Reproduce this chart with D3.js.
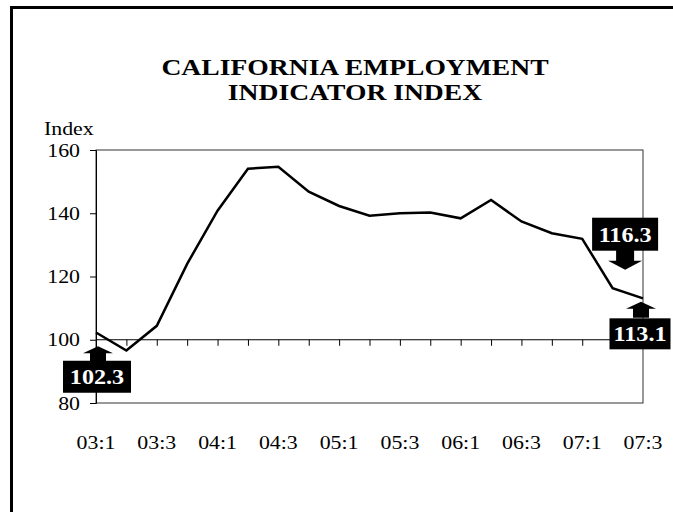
<!DOCTYPE html>
<html>
<head>
<meta charset="utf-8">
<script src="https://cdn.jsdelivr.net/npm/d3@7"></script>
<style>
  html, body { margin: 0; padding: 0; background: #fff; overflow: hidden; }
  svg { display: block; font-family: "Liberation Serif", "Times New Roman", serif; }
</style>
</head>
<body>
<svg id="chart" width="673" height="512"></svg>
<script>
// ---- data ----
const quarters = ["03:1","03:2","03:3","03:4","04:1","04:2","04:3","04:4","05:1","05:2",
                  "05:3","05:4","06:1","06:2","06:3","06:4","07:1","07:2","07:3"];
const values   = [102.3, 96.6, 104.4, 124.0, 140.8, 154.1, 154.7, 146.8, 142.3, 139.2,
                  140.0, 140.2, 138.4, 144.2, 137.4, 133.7, 131.9, 116.3, 113.1];
const xTickLabels = ["03:1","03:3","04:1","04:3","05:1","05:3","06:1","06:3","07:1","07:3"];
const yTicks = [80, 100, 120, 140, 160];
const titleLines = ["CALIFORNIA EMPLOYMENT", "INDICATOR INDEX"];
const yAxisTitle = "Index";
const callouts = [
  { index: 0,  label: "102.3", side: "axis" },
  { index: 17, label: "116.3", side: "above" },
  { index: 18, label: "113.1", side: "below" }
];

// ---- layout ----
const SX = 1.15; // horizontal stretch of the reference typeface
const svg = d3.select("#chart");
const m = { left: 96, right: 643, top: 150, bottom: 403 };

function stretchedText(parent, tx, ty, str, size, opts = {}) {
  return parent.append("text")
    .attr("transform", `translate(${tx},${ty}) scale(${SX},1)`)
    .attr("text-anchor", opts.anchor || "start")
    .attr("font-size", size)
    .attr("font-weight", opts.weight || "normal")
    .attr("fill", opts.fill || "#000")
    .text(str);
}

// outer frame (only top & left visible in the reference)
svg.append("path").attr("d", "M11.5,600 V7.5 H700")
  .attr("fill", "none").attr("stroke", "#000").attr("stroke-width", 3);

// title
titleLines.forEach((t, i) => stretchedText(svg, 355, 75 + i * 24.5, t, 24, { anchor: "middle", weight: "bold" }));

const x = d3.scalePoint().domain(quarters).range([m.left, m.right]);
const y = d3.scaleLinear().domain([80, 160]).range([m.bottom, m.top]);

// plot area border
svg.append("rect").attr("x", m.left).attr("y", m.top)
  .attr("width", m.right - m.left).attr("height", m.bottom - m.top)
  .attr("fill", "none").attr("stroke", "#333").attr("stroke-width", 1);

// y axis
const yAxis = svg.append("g").attr("transform", `translate(${m.left},0)`)
  .call(d3.axisLeft(y).tickValues(yTicks).tickSize(6).tickPadding(10).tickFormat(d3.format("d")));
yAxis.select(".domain").attr("stroke", "#000");
yAxis.selectAll(".tick line").attr("stroke", "#000");
yAxis.selectAll("text")
  .attr("x", -16 / SX).attr("transform", `scale(${SX},1)`)
  .attr("font-size", 19).attr("font-family", "Liberation Serif").attr("fill", "#000");

// x axis at y=100
const xAxis = svg.append("g").attr("transform", `translate(0,${y(100)})`)
  .call(d3.axisBottom(x).tickSize(6).tickFormat(""));
xAxis.select(".domain").attr("d", `M${m.left},0H${m.right}`).attr("stroke", "#000");
xAxis.selectAll(".tick line").attr("stroke", "#000");

// x labels at bottom
const xl = svg.append("g");
xTickLabels.forEach(d => stretchedText(xl, x(d), 449, d, 19, { anchor: "middle" }));

// y axis title
stretchedText(svg, 44, 135, yAxisTitle, 19);

// line
svg.append("path").datum(values)
  .attr("fill", "none").attr("stroke", "#000").attr("stroke-width", 2.5)
  .attr("stroke-linejoin", "miter")
  .attr("d", d3.line().x((d, i) => x(quarters[i])).y(d => y(d)));

// callouts
function arrowUp(cx, tipY) {
  return `M${cx},${tipY} L${cx+15},${tipY+7} L${cx+8},${tipY+7} L${cx+8},${tipY+16} L${cx-8},${tipY+16} L${cx-8},${tipY+7} L${cx-15},${tipY+7} Z`;
}
function arrowDown(cx, tipY) {
  return `M${cx},${tipY} L${cx+17},${tipY-9} L${cx+9},${tipY-9} L${cx+9},${tipY-20} L${cx-9},${tipY-20} L${cx-9},${tipY-9} L${cx-17},${tipY-9} Z`;
}
const g = svg.append("g");
callouts.forEach(c => {
  const px = x(quarters[c.index]), py = y(values[c.index]);
  let boxX, boxY, boxW, boxH = 32, path;
  if (c.side === "axis") {
    const tip = y(100) + 6.5;
    path = arrowUp(px + 2, tip);
    boxW = 68; boxX = px - 33; boxY = tip + 14.5;
  } else if (c.side === "above") {
    const tip = py - 18.5;
    path = arrowDown(px + 12.5, tip);
    boxW = 66; boxX = px - 20.5; boxY = tip - 52; boxH = 33;
  } else {
    const tip = py + 3.5;
    path = arrowUp(px - 2, tip);
    boxW = 61; boxX = px - 33.5; boxY = tip + 16.5; boxH = 31;
  }
  g.append("path").attr("d", path).attr("fill", "#000");
  g.append("rect").attr("x", boxX).attr("y", boxY).attr("width", boxW).attr("height", boxH).attr("fill", "#000");
  stretchedText(g, boxX + boxW / 2, boxY + boxH / 2 + 7.5, c.label, 21, { anchor: "middle", weight: "bold", fill: "#fff" });
});
</script>
</body>
</html>
